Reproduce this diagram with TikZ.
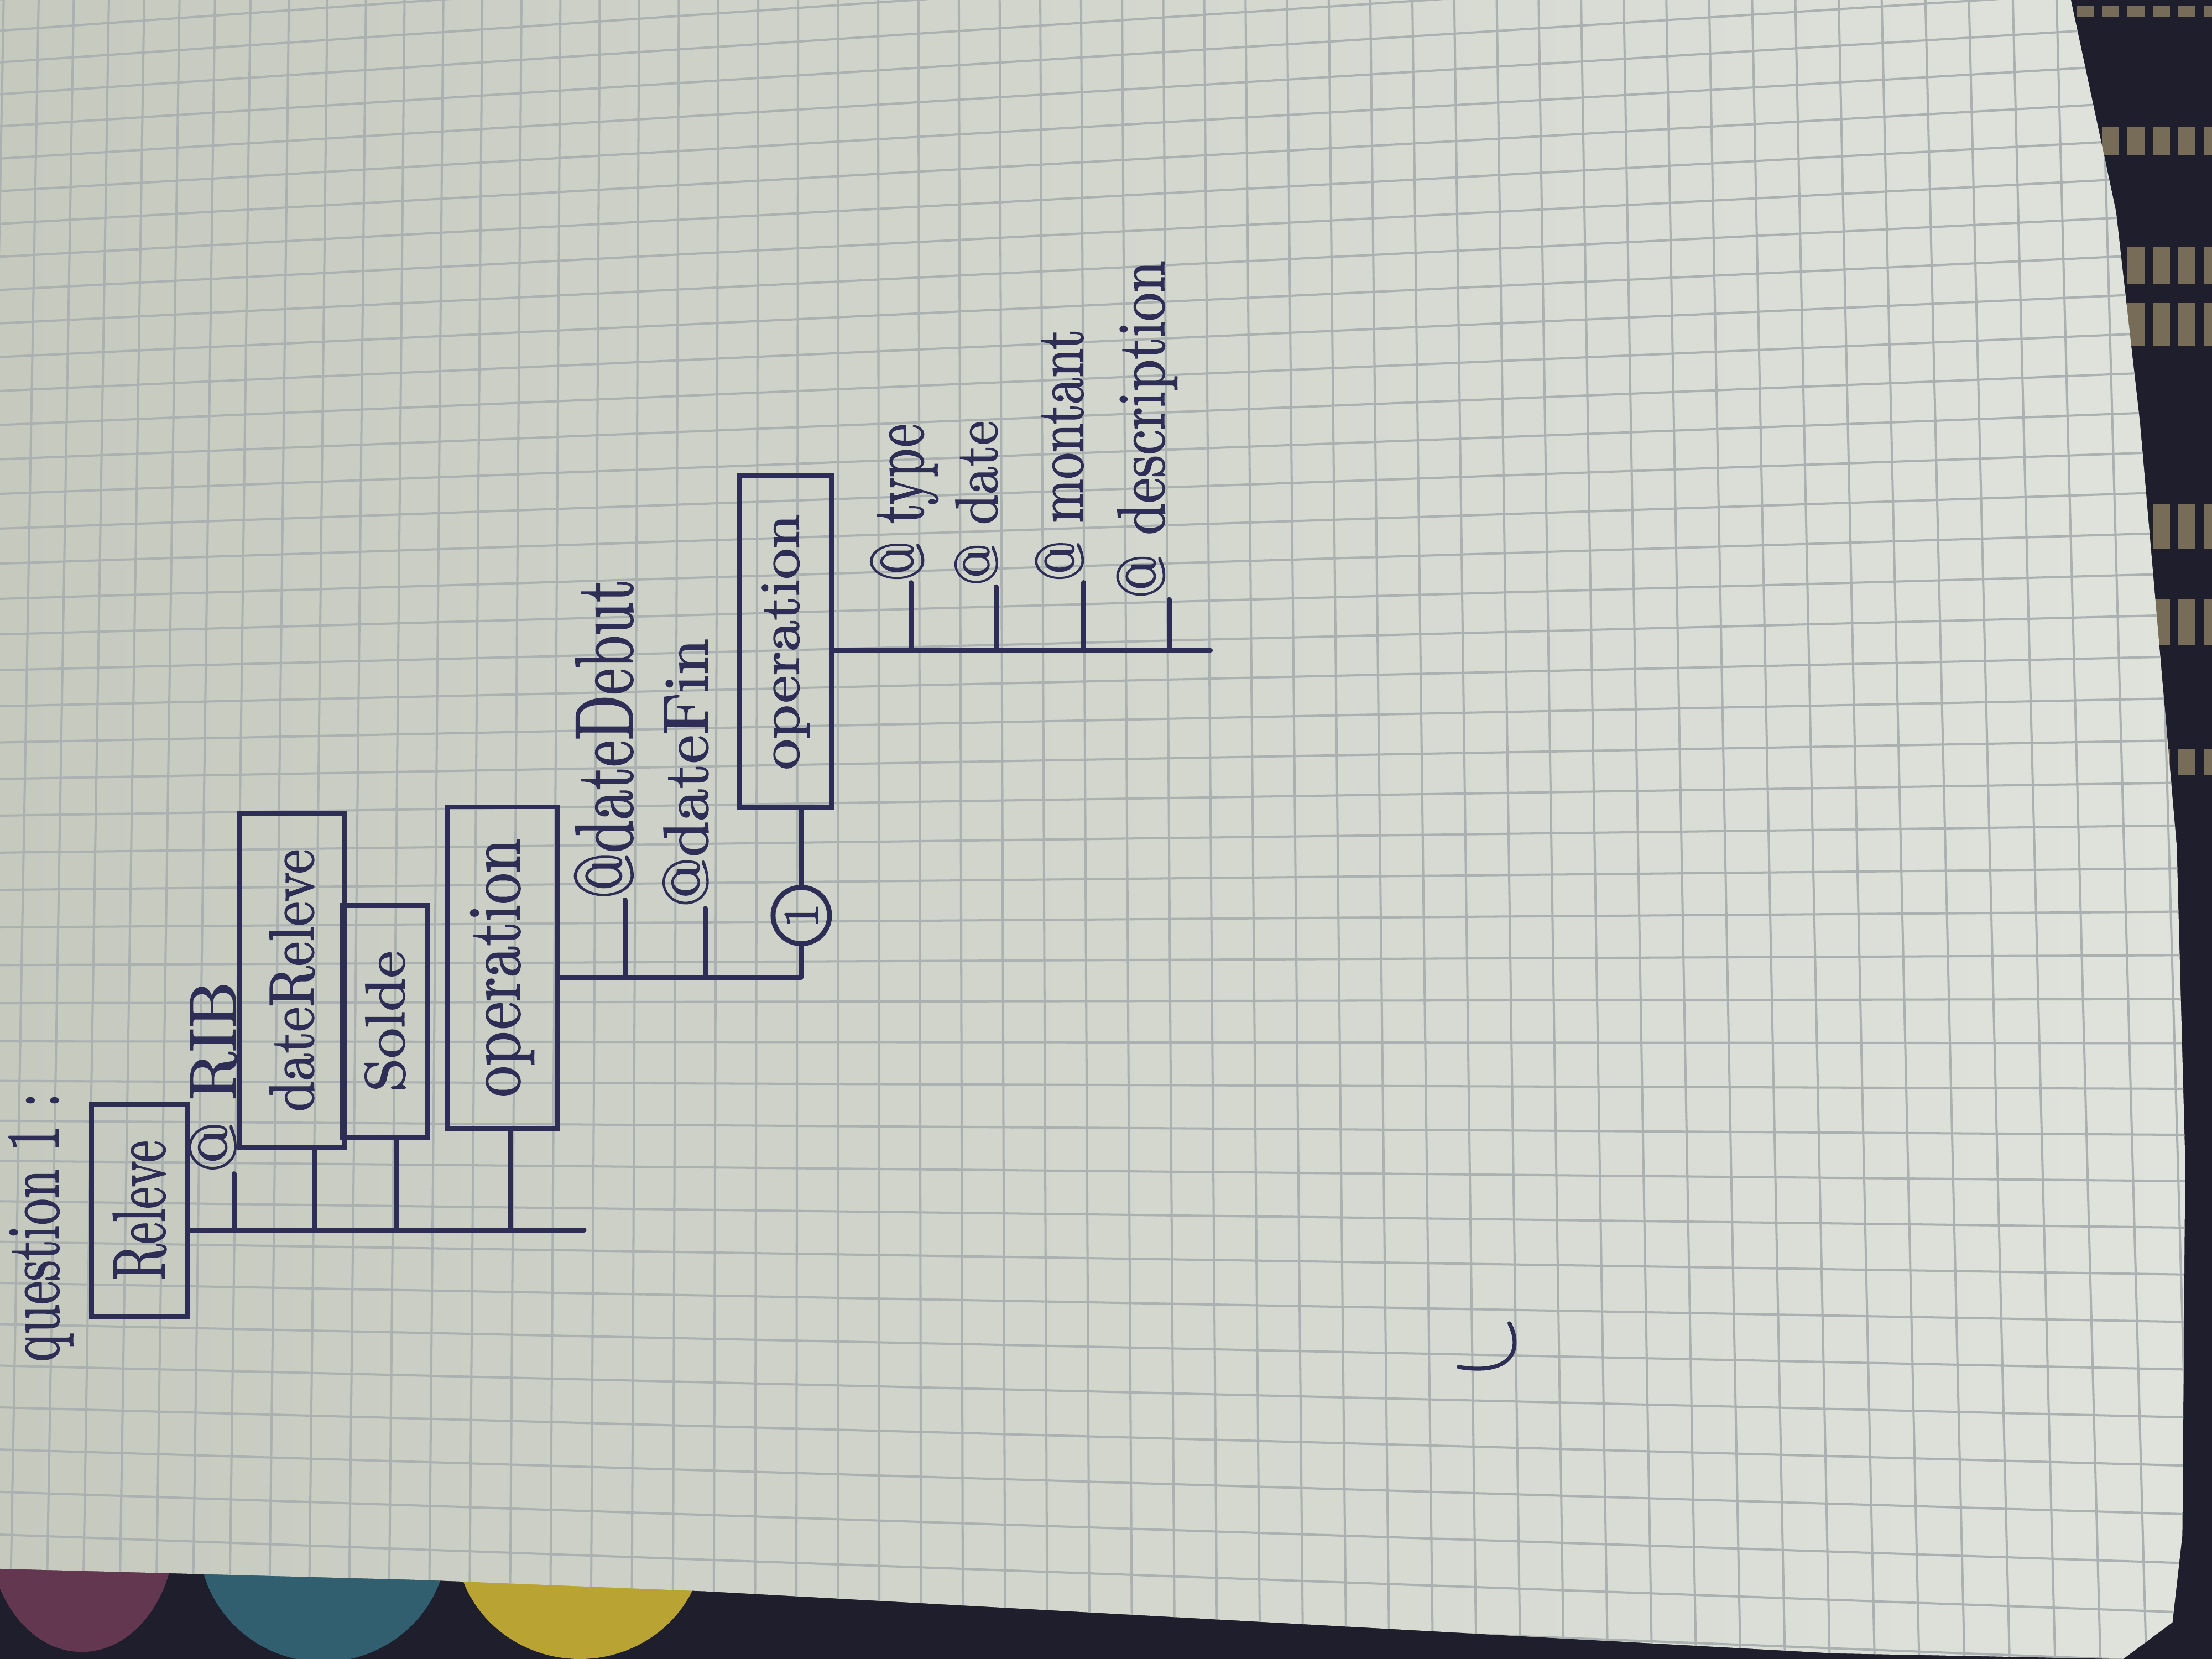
\documentclass[tikz,border=0pt]{standalone}
\usepackage{graphicx}
\usepackage{fontspec}
\newfontfamily\handfont{lmroman10-regular.otf}[FakeBold=1.6]
\usetikzlibrary{calc}
\definecolor{ink}{RGB}{45,45,85}
\definecolor{paperL}{RGB}{198,201,190}
\definecolor{paperR}{RGB}{224,227,220}
\definecolor{gridc}{RGB}{170,177,176}
\definecolor{darkbg}{RGB}{30,30,44}
\definecolor{fabric}{RGB}{118,108,88}
\definecolor{tabpurple}{RGB}{100,55,80}
\definecolor{tabteal}{RGB}{50,95,112}
\definecolor{tabyellow}{RGB}{185,163,50}
\newcommand{\sq}[3]{\scalebox{#1}[#2]{#3}}
\tikzset{
  box/.style={draw=ink, line width=1pt, rotate=90, inner sep=0pt, text=ink, font=\handfont\fontsize{15}{18}\selectfont},
  lab/.style={rotate=90, anchor=west, inner sep=0pt, text=ink, font=\handfont\fontsize{15}{18}\selectfont},
  conn/.style={draw=ink, line width=1pt, line cap=round, line join=round},
  gridline/.style={draw=gridc, line width=0.45pt},
  stripe/.style={draw=fabric, dash pattern=on 0.12cm off 0.06cm}
}
\begin{document}
\begin{tikzpicture}[x=0.01cm, y=-0.01cm]
\useasboundingbox (0,0) rectangle (1568,1176);
% background (fabric / desk)
\fill[darkbg] (0,0) rectangle (1568,1176);
\draw[stripe, line width=0.08cm] (1400,8) -- (1568,8);
\draw[stripe, line width=0.2cm] (1400,100) -- (1568,100);
\draw[stripe, line width=0.26cm] (1400,188) -- (1568,188);
\draw[stripe, line width=0.3cm] (1400,230) -- (1568,230);
\draw[stripe, line width=0.32cm] (1400,373) -- (1568,373);
\draw[stripe, line width=0.32cm] (1400,441) -- (1568,441);
\draw[stripe, line width=0.18cm] (1400,540) -- (1568,540);
% binder tabs
\fill[tabpurple] (58,1085) ellipse [x radius=66, y radius=86];
\fill[tabteal] (229,1092) ellipse [x radius=88, y radius=86];
\fill[tabyellow] (411,1092) ellipse [x radius=88, y radius=84];
% paper
\shade[left color=paperL, right color=paperR]
  (0,0) -- (1468,0) -- (1500,150) -- (1517,300) -- (1543,600) -- (1549,823)
  -- (1547,1088) -- (1540,1150) -- (1505,1176) -- (1300,1172) -- (900,1150)
  -- (500,1128) -- (300,1120) -- (0,1112) -- cycle;
\begin{scope}
  \clip (0,0) -- (1468,0) -- (1500,150) -- (1517,300) -- (1543,600) -- (1549,823)
  -- (1547,1088) -- (1540,1150) -- (1505,1176) -- (1300,1172) -- (900,1150)
  -- (500,1128) -- (300,1120) -- (0,1112) -- cycle;
  % vertical grid lines (cells widen to the right and downwards)
  \foreach \k in {-7,...,48} {
    \pgfmathsetmacro\X{8719.6*pow(1.0032,\k)-8553}
    \pgfmathsetmacro\xa{600+(\X-600)*0.97471}
    \pgfmathsetmacro\xb{600+(\X-600)*1.00999}
    \draw[gridline] (\xa,0) -- (\xb,1176);
  }
  % horizontal grid lines
  \foreach \j in {-32,...,18} {
    \pgfmathsetmacro\Y{4396*pow(1.007,\j)-3657}
    \pgfmathsetmacro\ya{730+(\Y-730)*0.9112}
    \pgfmathsetmacro\yb{730+(\Y-730)*1.0533}
    \draw[gridline] (0,\ya) -- (1568,\yb);
  }
\end{scope}
% stray pen mark
\draw[conn, line width=0.8pt] (1070,938) .. controls (1080,958) and (1070,975) .. (1034,969);

% ---- diagram ----
\node[lab] (question) at (29,966) {\sq{.71}{1}{question 1 :}};
\node[box, minimum width=1.50cm, minimum height=0.68cm] (releve) at (99,858) {\sq{.66}{1}{Releve}};
\node[lab] (rib) at (151,832) {\sq{.88}{.88}{@ RIB}};
\node[box, minimum width=2.37cm, minimum height=0.75cm] (datereleve) at (207,695) {\sq{.745}{.85}{dateReleve}};
\node[box, minimum width=1.64cm, minimum height=0.60cm] (solde) at (273,724) {\sq{.81}{.75}{Solde}};
\node[box, minimum width=2.28cm, minimum height=0.78cm] (opA) at (356,686) {\sq{.84}{1}{operation}};
\node[lab] (datedebut) at (428,638) {\sq{.8}{1.1}{@dateDebut}};
\node[lab] (datefin) at (486,644) {\sq{.87}{.85}{@dateFin}};
\node[box, circle, minimum size=0.4cm] (card) at (568,649) {\fontsize{10}{12}\selectfont 1};
\node[box, minimum width=2.35cm, minimum height=0.65cm] (opB) at (557,455) {\sq{.83}{.75}{operation}};
\node[lab] (type) at (641,413) {\sq{.70}{1}{@ type}};
\node[lab] (date) at (692,416) {\sq{.74}{.8}{@ date}};
\node[lab] (montant) at (751,413) {\sq{.71}{.9}{@ montant}};
\node[lab] (description) at (813,425) {\sq{.77}{.9}{@ description}};

% first level
\coordinate (t1) at (414,872);
\coordinate (b11) at (166,872);
\coordinate (b12) at (223,872);
\coordinate (b13) at (281,872);
\coordinate (b14) at (362,872);
\draw[conn] (releve.south |- t1) -- (t1);
\draw[conn] (b11) -- (b11 |- rib.west);
\draw[conn] (b12) -- (b12 |- datereleve.west);
\draw[conn] (b13) -- (b13 |- solde.west);
\draw[conn] (b14) -- (b14 |- opA.west);

% second level
\coordinate (t2) at (568,693);
\coordinate (b21) at (443,693);
\coordinate (b22) at (500,693);
\draw[conn] (opA.south |- t2) -- (t2) -- (card.west);
\draw[conn] (card.east) -- (card.east |- opB.west);
\draw[conn] (b21) -- (b21 |- datedebut.west);
\draw[conn] (b22) -- (b22 |- datefin.west);

% third level
\coordinate (t3) at (858,461);
\coordinate (b31) at (646,461);
\coordinate (b32) at (706,461);
\coordinate (b33) at (768,461);
\coordinate (b34) at (829,461);
\draw[conn] (opB.south |- t3) -- (t3);
\draw[conn] (b31) -- (b31 |- type.west);
\draw[conn] (b32) -- (b32 |- date.west);
\draw[conn] (b33) -- (b33 |- montant.west);
\draw[conn] (b34) -- (b34 |- description.west);
\end{tikzpicture}
\end{document}
